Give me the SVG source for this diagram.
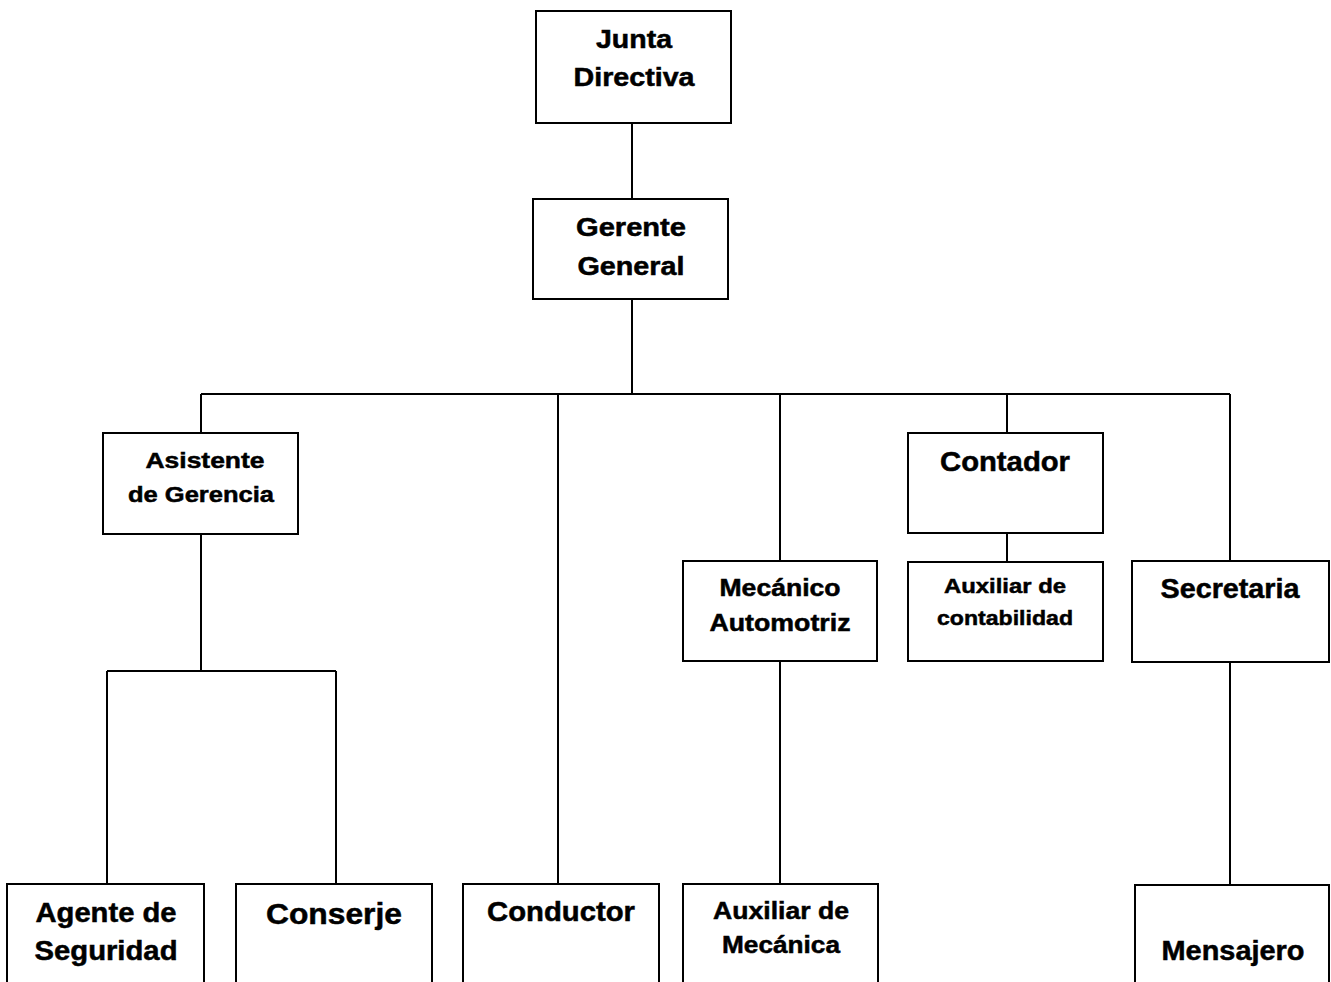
<svg xmlns="http://www.w3.org/2000/svg" width="1331" height="982" viewBox="0 0 1331 982">
  <style>
    .box { fill: #ffffff; stroke: #000000; stroke-width: 2; }
    .link { fill: none; stroke: #000000; stroke-width: 2; }
    .lbl { font-family: "Liberation Sans", Arial, sans-serif; font-weight: bold; fill: #000000; stroke: #000000; stroke-width: 0.5; text-anchor: middle; }
  </style>
  <rect width="1331" height="982" fill="#ffffff"/>

  <!-- connectors -->
  <g id="connectors">
    <path class="link" d="M632 123 V199"/>
    <path class="link" d="M632 299 V394"/>
    <path class="link" d="M201 394 H1230"/>
    <path class="link" d="M201 394 V433"/>
    <path class="link" d="M558 394 V884"/>
    <path class="link" d="M780 394 V561"/>
    <path class="link" d="M1007 394 V433"/>
    <path class="link" d="M1230 394 V561"/>
    <path class="link" d="M201 534 V671"/>
    <path class="link" d="M107 671 H336"/>
    <path class="link" d="M107 671 V884"/>
    <path class="link" d="M336 671 V884"/>
    <path class="link" d="M1007 533 V562"/>
    <path class="link" d="M780 661 V884"/>
    <path class="link" d="M1230 662 V885"/>
  </g>

  <g id="junta-directiva">
    <rect class="box" x="536" y="11" width="195" height="112"/>
    <text class="lbl" x="634" y="48" font-size="25" textLength="76" lengthAdjust="spacingAndGlyphs">Junta</text>
    <text class="lbl" x="634" y="86" font-size="25" textLength="121" lengthAdjust="spacingAndGlyphs">Directiva</text>
  </g>

  <g id="gerente-general">
    <rect class="box" x="533" y="199" width="195" height="100"/>
    <text class="lbl" x="631" y="236" font-size="25" textLength="110" lengthAdjust="spacingAndGlyphs">Gerente</text>
    <text class="lbl" x="631" y="275" font-size="25" textLength="107" lengthAdjust="spacingAndGlyphs">General</text>
  </g>

  <g id="asistente-gerencia">
    <rect class="box" x="103" y="433" width="195" height="101"/>
    <text class="lbl" x="205" y="468" font-size="22" textLength="119" lengthAdjust="spacingAndGlyphs">Asistente</text>
    <text class="lbl" x="201" y="502" font-size="22" textLength="146" lengthAdjust="spacingAndGlyphs">de Gerencia</text>
  </g>

  <g id="contador">
    <rect class="box" x="908" y="433" width="195" height="100"/>
    <text class="lbl" x="1005" y="471" font-size="27" textLength="130" lengthAdjust="spacingAndGlyphs">Contador</text>
  </g>

  <g id="mecanico-automotriz">
    <rect class="box" x="683" y="561" width="194" height="100"/>
    <text class="lbl" x="780" y="596" font-size="23" textLength="121" lengthAdjust="spacingAndGlyphs">Mecánico</text>
    <text class="lbl" x="780" y="631" font-size="23" textLength="141" lengthAdjust="spacingAndGlyphs">Automotriz</text>
  </g>

  <g id="auxiliar-contabilidad">
    <rect class="box" x="908" y="562" width="195" height="99"/>
    <text class="lbl" x="1005" y="593" font-size="21" textLength="122" lengthAdjust="spacingAndGlyphs">Auxiliar de</text>
    <text class="lbl" x="1005" y="625" font-size="21" textLength="136" lengthAdjust="spacingAndGlyphs">contabilidad</text>
  </g>

  <g id="secretaria">
    <rect class="box" x="1132" y="561" width="197" height="101"/>
    <text class="lbl" x="1230" y="598" font-size="27" textLength="139" lengthAdjust="spacingAndGlyphs">Secretaria</text>
  </g>

  <g id="agente-seguridad">
    <rect class="box" x="7" y="884" width="197" height="130"/>
    <text class="lbl" x="106" y="922" font-size="27" textLength="141" lengthAdjust="spacingAndGlyphs">Agente de</text>
    <text class="lbl" x="106" y="960" font-size="27" textLength="143" lengthAdjust="spacingAndGlyphs">Seguridad</text>
  </g>

  <g id="conserje">
    <rect class="box" x="236" y="884" width="196" height="130"/>
    <text class="lbl" x="334" y="924" font-size="29" textLength="136" lengthAdjust="spacingAndGlyphs">Conserje</text>
  </g>

  <g id="conductor">
    <rect class="box" x="463" y="884" width="196" height="130"/>
    <text class="lbl" x="561" y="921" font-size="27" textLength="148" lengthAdjust="spacingAndGlyphs">Conductor</text>
  </g>

  <g id="auxiliar-mecanica">
    <rect class="box" x="683" y="884" width="195" height="130"/>
    <text class="lbl" x="781" y="919" font-size="24" textLength="136" lengthAdjust="spacingAndGlyphs">Auxiliar de</text>
    <text class="lbl" x="781" y="953" font-size="24" textLength="118" lengthAdjust="spacingAndGlyphs">Mecánica</text>
  </g>

  <g id="mensajero">
    <rect class="box" x="1135" y="885" width="194" height="130"/>
    <text class="lbl" x="1233" y="960" font-size="27" textLength="143" lengthAdjust="spacingAndGlyphs">Mensajero</text>
  </g>
</svg>
